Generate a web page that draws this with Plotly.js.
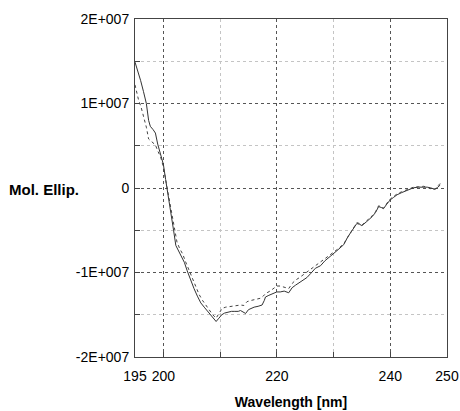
<!DOCTYPE html>
<html>
<head>
<meta charset="utf-8">
<script src="https://cdn.plot.ly/plotly-3.0.1.min.js"></script>
<style>html,body{margin:0;padding:0;background:#fff;}#chart{width:460px;height:411px;}</style>
</head>
<body>
<div id="chart"></div>
<script>
// Wavelength (nm) and molar ellipticity (x1E6) for the solid curve
const solidX = [195.0,195.5,196.0,196.5,197.0,197.4,197.7,198.2,198.6,199.0,199.5,200.0,200.4,200.9,201.4,201.8,202.2,202.7,203.2,203.7,204.2,204.8,205.4,206.0,206.6,207.2,207.8,208.4,209.0,209.3,209.8,210.3,210.8,211.3,212.0,212.6,213.2,213.6,214.0,214.5,215.0,215.5,216.0,216.7,217.4,217.8,218.0,218.6,219.3,220.0,220.6,221.3,222.1,222.7,223.3,224.0,224.6,225.3,226.0,226.8,227.7,228.5,229.4,230.0,230.8,231.8,232.5,233.3,234.1,234.6,235.0,235.8,236.8,237.4,237.95,238.4,238.8,239.4,240.0,240.6,241.2,242.0,242.95,243.5,244.1,245.0,245.9,246.5,247.05,247.5,247.9,248.3,248.8];
const solidY = [14.9,13.9,12.7,11.4,10.0,8.0,7.3,6.9,6.5,5.2,4.1,2.8,1.0,-1.0,-3.0,-5.0,-6.8,-7.5,-8.0,-8.8,-9.8,-10.9,-11.9,-12.8,-13.6,-14.1,-14.6,-15.1,-15.5,-15.8,-15.4,-15.0,-14.8,-14.7,-14.6,-14.6,-14.6,-14.5,-14.7,-14.85,-14.4,-14.2,-14.1,-14.0,-13.85,-13.3,-12.9,-12.7,-12.5,-12.3,-12.3,-12.2,-12.4,-11.8,-11.5,-11.2,-10.9,-10.6,-10.1,-9.5,-9.2,-8.6,-8.1,-7.8,-7.3,-6.7,-5.8,-5.0,-4.2,-4.3,-4.45,-4.0,-3.4,-2.9,-2.2,-2.3,-2.45,-1.9,-1.4,-1.1,-0.8,-0.55,-0.3,-0.1,0.03,0.1,0.15,0.1,0.03,-0.1,-0.15,0.05,0.35];

// Dotted curve
const dotX = [195.0,195.6,196.1,196.5,197.0,197.4,198.0,198.6,199.0,199.5,200.0,200.4,200.9,201.4,201.9,202.4,202.9,203.4,203.9,204.5,205.1,205.7,206.3,206.9,207.5,208.1,208.7,209.3,209.8,210.35,211.0,211.8,212.6,213.6,214.2,214.75,215.5,216.3,217.1,217.6,218.0,218.8,219.5,220.0,220.6,221.3,222.1,222.7,223.3,224.0,224.6,225.3,225.9,226.8,227.7,228.5,229.4,230.0,230.8,231.8,232.5,233.3,234.1,234.6,235.0,235.8,236.8,237.4,237.95,238.4,238.8,239.4,240.0,240.6,241.2,242.0,242.95,243.5,244.1,245.0,245.9,246.5,247.05,247.5,247.9,248.3,248.8,249.1];
const dotY = [12.2,10.5,9.5,8.6,7.2,5.8,5.4,5.1,4.4,3.7,2.5,1.0,-1.0,-2.9,-4.9,-6.4,-7.2,-7.8,-8.7,-9.7,-10.8,-11.8,-12.6,-13.3,-13.9,-14.5,-15.0,-15.4,-14.9,-14.25,-14.1,-14.0,-13.9,-13.85,-13.9,-13.45,-13.3,-13.2,-13.05,-12.8,-12.5,-12.2,-11.9,-11.6,-11.6,-11.7,-11.9,-11.3,-10.9,-10.6,-10.3,-10.0,-9.7,-9.2,-8.8,-8.4,-7.9,-7.7,-7.2,-6.6,-5.8,-5.0,-4.1,-4.2,-4.4,-3.9,-3.3,-2.8,-2.1,-2.2,-2.4,-1.8,-1.3,-1.0,-0.7,-0.45,-0.2,0.0,0.1,0.15,0.2,0.1,-0.05,-0.2,-0.1,0.2,0.5,0.75];

const xTickVals = [195,200,220,240,250];
const xTickText = ['195','200','220','240','250'];
const xMinorVals = [210,230];
const yTickVals = [-2e7,-1e7,0,1e7,2e7];
const yTickText = ['-2E+007','-1E+007','0','1E+007','2E+007'];
const yMinorVals = [-1.5e7,-5e6,5e6,1.5e7];

const scale = v => v * 1e6;

const traces = [
  {x: solidX, y: solidY.map(scale), mode: 'lines', line: {color: '#333', width: 1}, hoverinfo: 'skip'},
  {x: dotX, y: dotY.map(scale), mode: 'lines', line: {color: '#444', width: 1, dash: 'dot'}, hoverinfo: 'skip'}
];

const fontFam = 'Arial, "Liberation Sans", sans-serif';
const layout = {
  width: 460, height: 411,
  margin: {l: 135, r: 13, t: 19, b: 54},
  paper_bgcolor: '#fff', plot_bgcolor: '#fff',
  showlegend: false,
  font: {family: fontFam, size: 14, color: '#000'},
  xaxis: {
    range: [195, 250], tickmode: 'array', tickvals: xTickVals, ticktext: xTickText,
    ticks: 'inside', ticklen: 5, tickcolor: '#444', ticklabelstandoff: 6,
    showgrid: true, gridcolor: '#555', griddash: 'dot', gridwidth: 1,
    minor: {tickmode: 'array', tickvals: xMinorVals, ticks: 'inside', ticklen: 5, tickcolor: '#444', showgrid: true, gridcolor: '#c4c4c4', griddash: 'dot', gridwidth: 1},
    showline: true, linecolor: '#444', linewidth: 1, mirror: true, zeroline: false,
    tickfont: {size: 14, family: fontFam},
    title: {text: '<b>Wavelength [nm]</b>', font: {size: 14, family: fontFam}, standoff: 14}
  },
  yaxis: {
    range: [-2e7, 2e7], tickmode: 'array', tickvals: yTickVals, ticktext: yTickText,
    ticks: 'inside', ticklen: 5, tickcolor: '#444', ticklabelstandoff: 2,
    showgrid: true, gridcolor: '#555', griddash: 'dot', gridwidth: 1,
    minor: {tickmode: 'array', tickvals: yMinorVals, ticks: 'inside', ticklen: 5, tickcolor: '#444', showgrid: true, gridcolor: '#c4c4c4', griddash: 'dot', gridwidth: 1},
    showline: true, linecolor: '#444', linewidth: 1, mirror: true, zeroline: false,
    tickfont: {size: 14, family: fontFam}
  },
  annotations: [{
    text: '<b>Mol. Ellip.</b>', xref: 'paper', yref: 'y', x: -0.41, y: -2e5,
    xanchor: 'left', yanchor: 'middle', showarrow: false, font: {size: 15, family: fontFam, color: '#000'}
  }]
};

Plotly.newPlot('chart', traces, layout, {staticPlot: true, displayModeBar: false});
</script>
</body>
</html>
